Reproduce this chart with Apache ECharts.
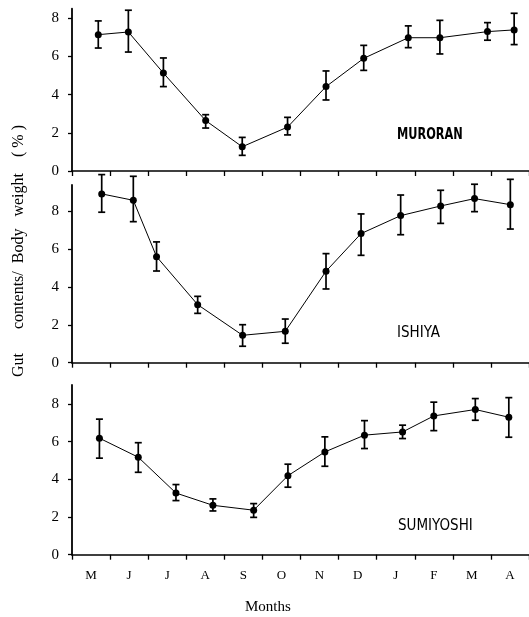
<!DOCTYPE html>
<html>
<head>
<meta charset="utf-8">
<script src="https://cdn.jsdelivr.net/npm/echarts@6/dist/echarts.min.js"></script>
<style>html,body{margin:0;padding:0;background:#fff}#c{width:529px;height:617px}</style>
</head>
<body>
<div id="c"></div>
<script>
// Month tick labels (band centres) and y tick values
const months = ['M','J','J','A','S','O','N','D','J','F','M','A'];
const yTicks = [0, 2, 4, 6, 8];
const monthTicks = [0,1,2,3,4,5,6,7,8,9,10,11,12];

// Sampling positions in month units (0 = start of May)
const muroranX   = [0.69, 1.48, 2.40, 3.51, 4.47, 5.66, 6.67, 7.66, 8.83, 9.66, 10.91, 11.61];
const muroranMean= [7.14, 7.28, 5.13, 2.64, 1.27, 2.30, 4.42, 5.90, 6.98, 6.98, 7.30, 7.39];
const muroranLow = [6.44, 6.23, 4.42, 2.25, 0.82, 1.89, 3.72, 5.27, 6.46, 6.13, 6.85, 6.62];
const muroranHigh= [7.86, 8.42, 5.92, 2.95, 1.76, 2.81, 5.24, 6.58, 7.60, 7.89, 7.77, 8.26];

const ishiyaX    = [0.78, 1.61, 2.22, 3.30, 4.48, 5.60, 6.67, 7.59, 8.63, 9.68, 10.57, 11.51];
const ishiyaMean = [8.93, 8.59, 5.61, 3.07, 1.45, 1.66, 4.84, 6.83, 7.78, 8.29, 8.68, 8.36];
const ishiyaLow  = [7.96, 7.46, 4.85, 2.61, 0.87, 1.03, 3.90, 5.68, 6.77, 7.37, 7.99, 7.07];
const ishiyaHigh = [9.95, 9.86, 6.39, 3.51, 2.01, 2.31, 5.77, 7.87, 8.87, 9.12, 9.44, 9.70];

const sumiyoshiX    = [0.72, 1.74, 2.73, 3.70, 4.77, 5.67, 6.64, 7.68, 8.68, 9.50, 10.59, 11.47];
const sumiyoshiMean = [6.18, 5.17, 3.27, 2.62, 2.36, 4.19, 5.45, 6.34, 6.51, 7.36, 7.70, 7.29];
const sumiyoshiLow  = [5.12, 4.37, 2.87, 2.32, 1.98, 3.58, 4.69, 5.63, 6.16, 6.58, 7.13, 6.23];
const sumiyoshiHigh = [7.19, 5.94, 3.72, 2.96, 2.71, 4.80, 6.25, 7.11, 6.87, 8.09, 8.28, 8.33];

const stations = ['MURORAN', 'ISHIYA', 'SUMIYOSHI'];
const yMax = [8.5, 9.4, 9.0];

const panels = [
  {x: muroranX, m: muroranMean, lo: muroranLow, hi: muroranHigh},
  {x: ishiyaX, m: ishiyaMean, lo: ishiyaLow, hi: ishiyaHigh},
  {x: sumiyoshiX, m: sumiyoshiMean, lo: sumiyoshiLow, hi: sumiyoshiHigh}
];

const gridLayout = [
  {left: 72, width: 463, top: 8.7, height: 162.3},
  {left: 72, width: 463, top: 185, height: 177.7},
  {left: 72, width: 463, top: 385, height: 169.7}
];
const labelPos = [[397, 135], [397, 333], [398, 526]];
const labelWeight = ['bold', 'normal', 'normal'];
const labelScale = [0.84, 1, 1];

const serif = "'Liberation Serif', 'DejaVu Serif', serif";
const narrow = "'Liberation Sans Narrow', 'DejaVu Sans Condensed', 'Liberation Sans', sans-serif";

const grids = [], xAxes = [], yAxes = [], series = [], graphics = [];
panels.forEach((p, i) => {
  grids.push(Object.assign({containLabel: false}, gridLayout[i]));
  const isBottom = i === 2;
  xAxes.push({
    type: 'value', gridIndex: i, min: 0, max: 12, interval: 1,
    axisLine: {show: true, onZero: false, lineStyle: {color: '#000', width: 1.6}},
    axisTick: {show: true, inside: false, length: 5, customValues: monthTicks, lineStyle: {color: '#000', width: 1.3}},
    axisLabel: {
      show: isBottom, margin: 14, color: '#000', fontFamily: serif, fontSize: 13,
      customValues: months.map((m, k) => k + 0.5),
      formatter: v => months[Math.floor(v)]
    },
    splitLine: {show: false}
  });
  yAxes.push({
    type: 'value', gridIndex: i, min: 0, max: yMax[i],
    axisLine: {show: true, onZero: false, lineStyle: {color: '#000', width: 1.8}},
    axisTick: {show: true, inside: false, length: 4, customValues: yTicks, lineStyle: {color: '#000', width: 1.3}},
    axisLabel: {margin: 13, color: '#000', fontFamily: serif, fontSize: 15, customValues: yTicks},
    splitLine: {show: false}
  });
  const errData = p.x.map((x, k) => [x, p.lo[k], p.hi[k]]);
  series.push({
    type: 'custom', xAxisIndex: i, yAxisIndex: i, clip: false, z: 2,
    data: errData,
    renderItem: (params, api) => {
      const x = api.value(0);
      const a = api.coord([x, api.value(1)]);
      const b = api.coord([x, api.value(2)]);
      const w = 3.5;
      const st = {stroke: '#000', lineWidth: 1.7};
      return {type: 'group', children: [
        {type: 'line', shape: {x1: a[0], y1: a[1], x2: b[0], y2: b[1]}, style: st},
        {type: 'line', shape: {x1: a[0]-w, y1: a[1], x2: a[0]+w, y2: a[1]}, style: st},
        {type: 'line', shape: {x1: b[0]-w, y1: b[1], x2: b[0]+w, y2: b[1]}, style: st}
      ]};
    }
  });
  series.push({
    type: 'line', xAxisIndex: i, yAxisIndex: i, z: 3,
    data: p.x.map((x, k) => [x, p.m[k]]),
    symbol: 'circle', symbolSize: 7,
    itemStyle: {color: '#000'},
    lineStyle: {color: '#000', width: 1},
    animation: false
  });
  graphics.push({
    type: 'text', x: labelPos[i][0], y: labelPos[i][1], scaleX: labelScale[i],
    style: {text: stations[i], fill: '#000', font: labelWeight[i] + ' 15px ' + narrow,
            align: 'left', verticalAlign: 'middle'}
  });
});

graphics.push({
  type: 'text', left: 245, top: 600,
  style: {text: 'Months', fill: '#000', font: '15px ' + serif}
});
graphics.push({
  type: 'text', x: 19, y: 251, rotation: Math.PI / 2,
  style: {text: 'Gut      contents/  Body   weight    ( % )', fill: '#000', font: '16px ' + serif,
          align: 'center', verticalAlign: 'middle'}
});

const chart = echarts.init(document.getElementById('c'), null, {renderer: 'canvas'});
chart.setOption({
  animation: false,
  backgroundColor: '#fff',
  grid: grids, xAxis: xAxes, yAxis: yAxes, series: series, graphic: graphics
});
</script>
</body>
</html>
